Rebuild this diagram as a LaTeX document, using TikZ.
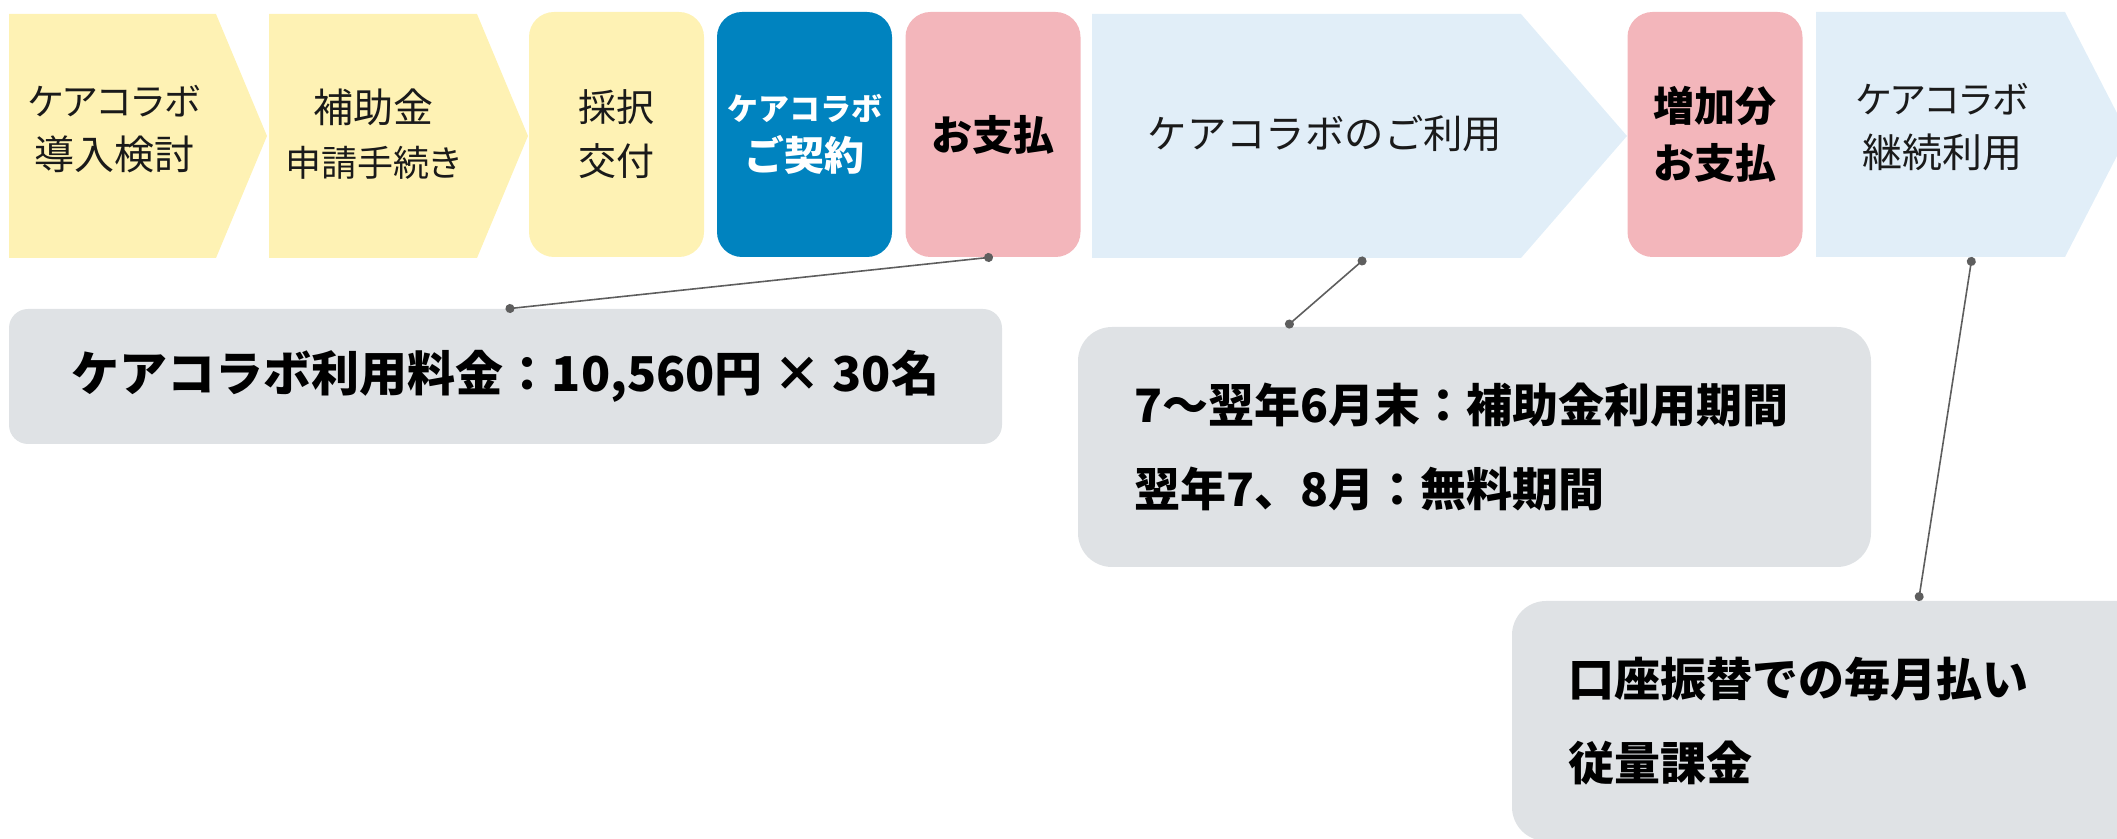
\documentclass[tikz,border=0pt]{standalone}
\usepackage{fontspec}
\setmainfont{Noto Sans CJK JP}
\newfontfamily\pfont[RawFeature=+palt]{Noto Sans CJK JP}
\usetikzlibrary{arrows.meta}
\pgfdeclarelayer{bg}
\pgfsetlayers{bg,main}
\definecolor{cyel}{HTML}{FEF2B4}
\definecolor{cblue}{HTML}{0083BF}
\definecolor{cpink}{HTML}{F3B6BB}
\definecolor{clblue}{HTML}{E1EEF8}
\definecolor{cgray}{HTML}{DFE2E5}
\definecolor{cline}{HTML}{5E5E5E}
\definecolor{ctext}{HTML}{1A1A1A}
\newcommand\kanaline[1]{{\fontsize{18.5}{27}\selectfont #1}}
\newcommand\kanjiline[1]{{\fontsize{20}{27}\selectfont #1}}
\begin{document}
\begin{tikzpicture}[x=0.5pt,y=-0.5pt,
  chev/.style={inner sep=0pt, outer sep=0pt, minimum height=122pt},
  rbox/.style={inner sep=0pt, outer sep=0pt, minimum width=87.5pt, minimum height=122.5pt, rounded corners=12.5pt, align=center},
  lbl/.style={font=\pfont\fontsize{19}{27}\selectfont, text=ctext, align=center, inner sep=0pt},
  blbl/.style={font=\bfseries\fontsize{20.5}{28.5}\selectfont, text=black, align=center},
  note/.style={fill=cgray, inner sep=0pt, outer sep=0pt, text=black},
  wide/.style={note, minimum width=396.5pt, minimum height=120pt, rounded corners=17pt, text width=340.5pt, inner xsep=28pt, align=left, font=\bfseries\fontsize{23}{42}\selectfont},
  conn/.style={draw=cline, line width=0.8pt, {Circle[length=4.5pt]}-{Circle[length=4.5pt]}}
]
\useasboundingbox (0,0) rectangle (2117,839);

% top row
\node[chev, minimum width=129pt] (c1) at (138,136) {};
\node[lbl] (t1) at (114,129) {\kanaline{ケアコラボ}\\\kanjiline{導入検討}};
\node[chev, minimum width=129.5pt] (c2) at (398.5,136) {};
\node[lbl] (t2) at (373,134) {\kanjiline{補助金}\\{\fontsize{18}{27}\selectfont 申請手続き}};
\node[rbox, fill=cyel, lbl] (r1) at (616.5,134.5) {採択\\交付};
\node[rbox, fill=cblue, text=white, font=\bfseries\fontsize{20}{25}\selectfont] (r2) at (804.5,134.5) {{\fontsize{15.5}{25}\selectfont ケアコラボ}\\ご契約};
\node[rbox, fill=cpink, blbl] (r3) at (993,134.5) {お支払};
\node[chev, minimum width=267.5pt] (c3) at (1359.5,136) {};
\node[lbl, font=\fontsize{19.7}{27}\selectfont] (t3) at (1325,134) {ケアコラボのご利用};
\node[rbox, fill=cpink, blbl] (r4) at (1715,134.5) {増加分\\お支払};
\node[chev, minimum width=156pt, minimum height=122.5pt] (c4) at (1972,134.5) {};
\node[lbl] (t4) at (1942,127) {\kanaline{ケアコラボ}\\\kanjiline{継続利用}};

\begin{pgfonlayer}{bg}
\fill[cyel] (c1.north west) -- ([xshift=-25.5pt]c1.north east) -- (c1.east) -- ([xshift=-25.5pt]c1.south east) -- (c1.south west) -- cycle;
\fill[cyel] (c2.north west) -- ([xshift=-25.5pt]c2.north east) -- (c2.east) -- ([xshift=-25.5pt]c2.south east) -- (c2.south west) -- cycle;
\fill[clblue] (c3.north west) -- ([xshift=-53pt]c3.north east) -- (c3.east) -- ([xshift=-53pt]c3.south east) -- (c3.south west) -- cycle;
\fill[clblue] (c4.north west) -- ([xshift=-31.5pt]c4.north east) -- (c4.east) -- ([xshift=-31.5pt]c4.south east) -- (c4.south west) -- cycle;
\end{pgfonlayer}

% notes
\node[note, minimum width=496.5pt, minimum height=67.5pt, rounded corners=9.5pt, font=\bfseries\fontsize{24}{30}\selectfont] (n1) at (505.5,376.5) {ケアコラボ利用料金：10,560円 × 30名};
\node[wide] (n2) at (1474.5,447) {7～翌年6月末：補助金利用期間\\翌年7、8月：無料期間};
\node[wide] (n3) at (1908.5,721) {口座振替での毎月払い\\従量課金};

% connectors
\draw[conn] (r3.south) -- (n1.north);
\draw[conn] ([xshift=3pt]c3.south) -- ([xshift=104pt]n2.north west);
\draw[conn] (c4.south) -- ([xshift=5pt]n3.north);
\end{tikzpicture}
\end{document}
